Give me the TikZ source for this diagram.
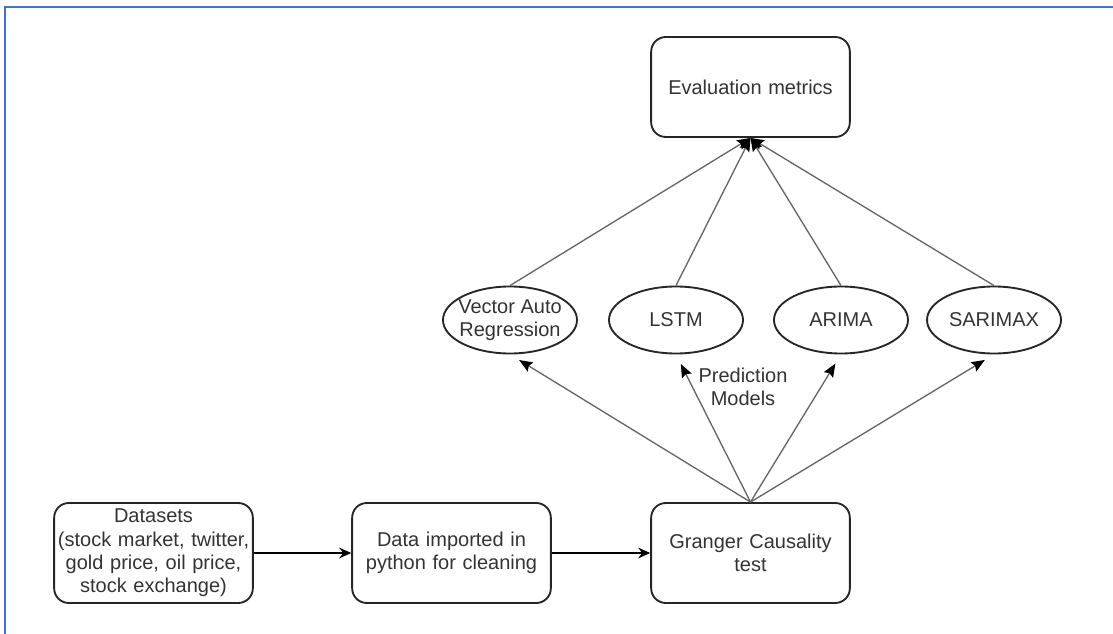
\documentclass[tikz,border=0pt]{standalone}
\usepackage{fontspec}
\setmainfont{Liberation Sans}
\usetikzlibrary{shapes.geometric,arrows.meta}

\definecolor{frameblue}{HTML}{4472C4}
\definecolor{inkgray}{HTML}{333333}

\tikzset{
	stagebox/.style={draw=black!85, line width=1.4pt, rounded corners=11pt, minimum width=149pt, minimum height=75pt, text width=149pt, align=center, inner sep=0pt, text=inkgray, font=\fontsize{15}{17.5}\selectfont},
	modelnode/.style={draw=black!85, line width=1.4pt, ellipse, minimum width=100.5pt, minimum height=50.25pt, inner xsep=-12pt, inner ysep=0pt, align=center, text=inkgray, font=\fontsize{15}{17.5}\selectfont},
	flow/.style={draw=black, line width=1.4pt, -{Stealth[length=9pt,width=8pt]}},
	feed/.style={draw=black!60, line width=1pt, -{Stealth[length=10pt,width=8pt,inset=1.5pt,color=black]}}
}

\begin{document}
\begin{tikzpicture}[x=0.75pt, y=-0.75pt]
	% folha e a moldura azul de cima e da esquerda
		\useasboundingbox (0,0) rectangle (1113,634);
		\draw[frameblue, line width=2.2pt] (5,634) -- (5,7) -- (1113,7);

	% as caixas
		\node[stagebox] (evalm) at (750.5,87) {Evaluation metrics};
		\node[stagebox] (datasets) at (153.5,553) {Datasets\\(stock market, twitter,\\gold price, oil price,\\stock exchange)};
		\node[stagebox] (cleaning) at (451.5,553) {Data imported in\\python for cleaning};
		\node[stagebox] (granger) at (750.5,553) {Granger Causality\\test};

	% os modelos
		\node[modelnode] (var) at (510,320) {Vector Auto\\Regression};
		\node[modelnode] (lstm) at (676,320) {LSTM};
		\node[modelnode] (arima) at (841,320) {ARIMA};
		\node[modelnode] (sarimax) at (994,320) {SARIMAX};
		\node[align=center, text=inkgray, font=\fontsize{15}{17.5}\selectfont] (predlabel) at (743,387) {Prediction\\Models};

	% as setas
		\draw[flow] (datasets) -- (cleaning);
		\draw[flow] (cleaning) -- (granger);
		\foreach \m in {var,lstm,arima,sarimax}{
			\draw[feed, shorten >=8pt] (granger.north) -- (\m.south);
			\draw[feed] (\m.north) -- (evalm.south);
		}
\end{tikzpicture}
\end{document}
